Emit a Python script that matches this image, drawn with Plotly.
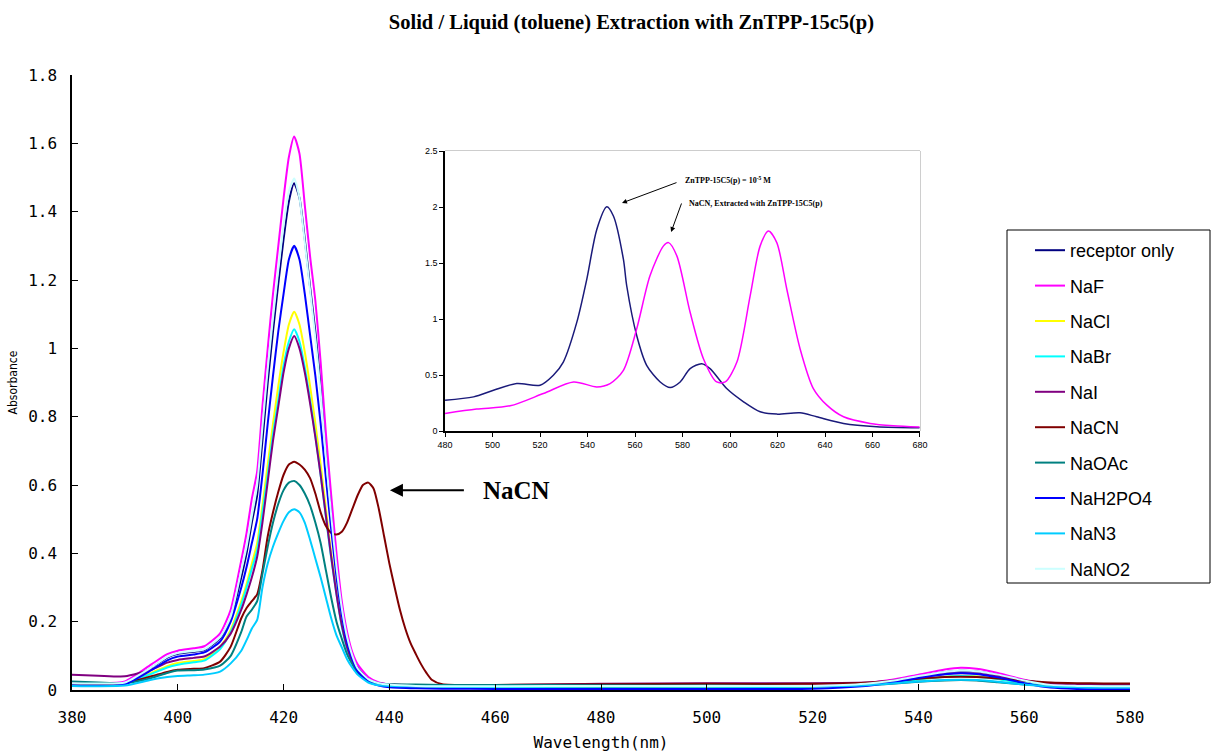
import plotly.graph_objects as go

# ---------------- main spectra (Soret region) ----------------
wavelength = [380, 385, 390, 395, 398, 400, 403, 405, 408, 410,
              412, 413, 414, 415, 416, 417, 418, 419, 420, 421,
              422, 423, 424, 425, 426, 427, 428, 429, 430, 431,
              432, 433, 434, 436, 438, 440, 445, 450, 460, 480,
              500, 520, 530, 535, 540, 545, 548, 551, 555, 560,
              565, 570, 575, 580]

receptor_only = [0.017, 0.016, 0.020, 0.065, 0.095, 0.106, 0.112, 0.117, 0.152, 0.210,
                 0.330, 0.400, 0.490, 0.570, 0.730, 0.900, 1.050, 1.190, 1.320, 1.430,
                 1.483, 1.440, 1.320, 1.180, 1.050, 0.890, 0.700, 0.530, 0.370, 0.245,
                 0.160, 0.100, 0.065, 0.032, 0.020, 0.015, 0.011, 0.009, 0.008, 0.009,
                 0.010, 0.010, 0.017, 0.026, 0.040, 0.052, 0.056, 0.054, 0.044, 0.027,
                 0.014, 0.010, 0.009, 0.009]

naf = [0.020, 0.019, 0.025, 0.075, 0.105, 0.115, 0.122, 0.128, 0.166, 0.235,
       0.380, 0.460, 0.560, 0.640, 0.830, 1.000, 1.160, 1.300, 1.440, 1.560,
       1.620, 1.570, 1.420, 1.270, 1.140, 0.960, 0.750, 0.570, 0.400, 0.260,
       0.170, 0.110, 0.075, 0.038, 0.022, 0.016, 0.012, 0.010, 0.010, 0.012,
       0.012, 0.013, 0.020, 0.030, 0.045, 0.060, 0.065, 0.062, 0.050, 0.030,
       0.016, 0.011, 0.010, 0.010]

nacl = [0.016, 0.015, 0.018, 0.050, 0.070, 0.079, 0.085, 0.090, 0.127, 0.176,
        0.260, 0.310, 0.370, 0.430, 0.540, 0.660, 0.780, 0.890, 0.990, 1.070,
        1.107, 1.070, 0.990, 0.890, 0.780, 0.660, 0.530, 0.400, 0.290, 0.190,
        0.125, 0.080, 0.050, 0.025, 0.016, 0.013, 0.010, 0.009, 0.009, 0.010,
        0.010, 0.010, 0.014, 0.021, 0.031, 0.039, 0.042, 0.040, 0.033, 0.020,
        0.012, 0.009, 0.008, 0.008]

nabr = [0.017, 0.016, 0.019, 0.047, 0.066, 0.074, 0.081, 0.086, 0.120, 0.170,
        0.250, 0.300, 0.355, 0.410, 0.520, 0.630, 0.750, 0.850, 0.950, 1.020,
        1.056, 1.020, 0.945, 0.850, 0.745, 0.630, 0.505, 0.385, 0.280, 0.185,
        0.120, 0.078, 0.050, 0.025, 0.016, 0.013, 0.010, 0.009, 0.009, 0.010,
        0.010, 0.010, 0.014, 0.021, 0.031, 0.039, 0.041, 0.039, 0.032, 0.020,
        0.012, 0.009, 0.008, 0.008]

nai = [0.045, 0.042, 0.040, 0.060, 0.080, 0.088, 0.094, 0.098, 0.127, 0.165,
       0.235, 0.280, 0.330, 0.390, 0.490, 0.610, 0.730, 0.830, 0.930, 1.000,
       1.036, 1.000, 0.930, 0.840, 0.740, 0.630, 0.510, 0.390, 0.280, 0.190,
       0.125, 0.082, 0.055, 0.030, 0.020, 0.017, 0.014, 0.013, 0.014, 0.018,
       0.020, 0.020, 0.022, 0.028, 0.038, 0.047, 0.050, 0.048, 0.040, 0.028,
       0.020, 0.017, 0.016, 0.016]

naoac = [0.025, 0.022, 0.020, 0.035, 0.050, 0.057, 0.058, 0.060, 0.071, 0.100,
         0.170, 0.215, 0.235, 0.260, 0.340, 0.420, 0.490, 0.545, 0.585, 0.607,
         0.612, 0.600, 0.575, 0.540, 0.490, 0.430, 0.350, 0.270, 0.200, 0.150,
         0.105, 0.075, 0.050, 0.027, 0.019, 0.017, 0.016, 0.015, 0.015, 0.014,
         0.013, 0.012, 0.014, 0.018, 0.024, 0.028, 0.029, 0.028, 0.023, 0.016,
         0.012, 0.011, 0.010, 0.010]

nah2po4 = [0.014, 0.013, 0.017, 0.058, 0.087, 0.098, 0.104, 0.110, 0.142, 0.200,
           0.300, 0.360, 0.430, 0.500, 0.630, 0.780, 0.920, 1.050, 1.160, 1.260,
           1.300, 1.260, 1.160, 1.040, 0.920, 0.780, 0.620, 0.470, 0.330, 0.220,
           0.140, 0.090, 0.055, 0.025, 0.013, 0.008, 0.005, 0.004, 0.003, 0.003,
           0.003, 0.004, 0.012, 0.022, 0.035, 0.046, 0.049, 0.047, 0.037, 0.020,
           0.007, 0.003, 0.002, 0.002]

nan3 = [0.012, 0.011, 0.013, 0.030, 0.038, 0.041, 0.043, 0.045, 0.054, 0.078,
        0.115, 0.146, 0.180, 0.205, 0.300, 0.370, 0.420, 0.460, 0.495, 0.520,
        0.529, 0.520, 0.490, 0.440, 0.385, 0.330, 0.270, 0.210, 0.160, 0.125,
        0.090, 0.065, 0.045, 0.022, 0.014, 0.012, 0.011, 0.011, 0.010, 0.010,
        0.010, 0.010, 0.014, 0.019, 0.025, 0.029, 0.030, 0.029, 0.024, 0.016,
        0.010, 0.008, 0.007, 0.007]

nano2 = [0.020, 0.019, 0.022, 0.066, 0.097, 0.108, 0.114, 0.119, 0.155, 0.215,
         0.350, 0.420, 0.510, 0.600, 0.770, 0.940, 1.090, 1.230, 1.360, 1.460,
         1.497, 1.440, 1.310, 1.170, 1.030, 0.870, 0.680, 0.510, 0.360, 0.240,
         0.155, 0.100, 0.063, 0.032, 0.020, 0.016, 0.012, 0.011, 0.011, 0.012,
         0.012, 0.012, 0.018, 0.027, 0.041, 0.053, 0.057, 0.055, 0.045, 0.028,
         0.015, 0.012, 0.011, 0.011]

# NaCN has a second band near 436 nm, so it is sampled more finely there
wavelength_cn = [380, 385, 390, 395, 398, 400, 403, 405, 408, 410,
                 412, 413, 414, 415, 416, 417, 418, 419, 420, 421,
                 422, 423, 424, 425, 426, 427, 428, 429, 430, 431,
                 432, 433, 434, 435, 436, 437, 438, 439, 440, 441,
                 442, 443, 444, 445, 446, 447, 448, 450, 460, 480,
                 500, 520, 530, 535, 540, 545, 548, 551, 555, 560,
                 565, 570, 575, 580]

nacn = [0.018, 0.017, 0.020, 0.040, 0.053, 0.059, 0.062, 0.064, 0.083, 0.127,
        0.210, 0.240, 0.260, 0.280, 0.350, 0.450, 0.520, 0.580, 0.630, 0.660,
        0.668, 0.660, 0.645, 0.620, 0.575, 0.520, 0.480, 0.460, 0.455, 0.463,
        0.490, 0.530, 0.570, 0.600, 0.607, 0.590, 0.530, 0.450, 0.370, 0.300,
        0.234, 0.180, 0.137, 0.105, 0.075, 0.050, 0.030, 0.017, 0.015, 0.017,
        0.018, 0.018, 0.021, 0.026, 0.033, 0.038, 0.039, 0.038, 0.034, 0.027,
        0.022, 0.020, 0.019, 0.019]

series = [
    ("receptor only", wavelength, receptor_only, "#000080"),
    ("NaF", wavelength, naf, "#FF00FF"),
    ("NaCl", wavelength, nacl, "#FFFF00"),
    ("NaBr", wavelength, nabr, "#00FFFF"),
    ("NaI", wavelength, nai, "#800080"),
    ("NaCN", wavelength_cn, nacn, "#800000"),
    ("NaOAc", wavelength, naoac, "#008080"),
    ("NaH2PO4", wavelength, nah2po4, "#0000FF"),
    ("NaN3", wavelength, nan3, "#00CCFF"),
    ("NaNO2", wavelength, nano2, "#CCFFFF"),
]

# ---------------- inset: Q-band region ----------------
inset_wl_receptor = [480, 492, 500.4, 510.2, 520, 525.6, 529.8, 535.5, 539.7, 543.9,
                     548.1, 550.9, 555.1, 556.5, 560.7, 564.9, 570.6, 574.8, 579, 583.2,
                     588.1, 591.6, 598.6, 605.7, 612.7, 619.7, 629.5, 636.5, 647.8, 661.8,
                     679.8]
inset_abs_receptor = [0.275, 0.305, 0.364, 0.424, 0.409, 0.498, 0.616, 0.972, 1.357, 1.800,
                      2.002, 1.920, 1.534, 1.297, 0.853, 0.587, 0.438, 0.388, 0.438, 0.557,
                      0.601, 0.557, 0.379, 0.261, 0.172, 0.151, 0.163, 0.127, 0.068, 0.039,
                      0.030]

inset_wl_nacn = [480, 493.3, 507.4, 521.4, 534.1, 543.9, 549.5, 555.1, 560.7, 566.3,
                 572, 574.1, 577.6, 583.2, 588.8, 594.4, 598, 602.9, 608.5, 612.7,
                 616.2, 619.7, 623.9, 629.5, 635.1, 640.8, 647.8, 659, 668.8, 679.8]
inset_abs_nacn = [0.157, 0.196, 0.225, 0.335, 0.438, 0.394, 0.424, 0.542, 0.912, 1.386,
                  1.653, 1.682, 1.564, 1.060, 0.646, 0.438, 0.438, 0.616, 1.209, 1.653,
                  1.786, 1.682, 1.268, 0.735, 0.379, 0.231, 0.127, 0.068, 0.047, 0.036]

fig = go.Figure()

for name, x, y, color in series:
    fig.add_trace(go.Scatter(
        x=x, y=y, name=name, mode="lines",
        line=dict(color=color, width=2, shape="spline", smoothing=0.6),
        legendgroup=name,
    ))

fig.add_trace(go.Scatter(
    x=inset_wl_receptor, y=inset_abs_receptor, mode="lines", showlegend=False,
    line=dict(color="#1a1a7a", width=1.5, shape="spline", smoothing=0.8),
    xaxis="x2", yaxis="y2",
))
fig.add_trace(go.Scatter(
    x=inset_wl_nacn, y=inset_abs_nacn, mode="lines", showlegend=False,
    line=dict(color="#FF00FF", width=1.5, shape="spline", smoothing=0.8),
    xaxis="x2", yaxis="y2",
))

tick_font = dict(family="DejaVu Sans Mono", size=16, color="#000000")
inset_font = dict(family="Liberation Sans, Arial", size=9, color="#000000")
serif_bold = "Liberation Serif, Times New Roman"

fig.update_layout(
    width=1212, height=755,
    margin=dict(l=72, r=82, t=75, b=65),
    paper_bgcolor="white", plot_bgcolor="white",
    title=dict(
        text="<b>Solid / Liquid (toluene) Extraction with ZnTPP-15c5(p)</b>",
        font=dict(family=serif_bold, size=20.5, color="#000000"),
        x=0.521, xref="container", xanchor="center",
        y=1 - 22 / 755, yref="container", yanchor="middle",
    ),
    xaxis=dict(
        range=[380, 580], dtick=20, tick0=380,
        showline=True, linecolor="#000000", linewidth=1.5,
        ticks="inside", ticklen=6, tickcolor="#000000",
        showgrid=False, zeroline=False, tickfont=tick_font,
        ticklabelstandoff=12, automargin=False,
        title=dict(text="Wavelength(nm)",
                   font=dict(family="DejaVu Sans Mono", size=16, color="#000000"),
                   standoff=11),
    ),
    yaxis=dict(
        range=[0, 1.8], dtick=0.2, tick0=0,
        showline=True, linecolor="#000000", linewidth=1.5,
        ticks="inside", ticklen=6, tickcolor="#000000",
        showgrid=False, zeroline=False, tickfont=tick_font,
        ticklabelstandoff=10, automargin=False,
        title=dict(text="Absorbance",
                   font=dict(family="Liberation Sans Narrow, DejaVu Sans Condensed",
                             size=12, color="#000000"),
                   standoff=8),
    ),
    xaxis2=dict(
        domain=[0.3526, 0.8015], anchor="y2",
        range=[480, 680], dtick=20, tick0=480,
        showline=True, linecolor="#000000", linewidth=1.5,
        ticks="outside", ticklen=4, tickcolor="#000000",
        showgrid=False, zeroline=False, tickfont=inset_font,
    ),
    yaxis2=dict(
        domain=[0.4211, 0.8764], anchor="x2",
        range=[0, 2.5], dtick=0.5, tick0=0,
        showline=True, linecolor="#000000", linewidth=1.5,
        ticks="outside", ticklen=4, tickcolor="#000000",
        showgrid=False, zeroline=False, tickfont=inset_font,
    ),
    legend=dict(
        x=(1030 - 72) / 1058, xanchor="left", xref="paper",
        y=(690 - 232) / 615, yanchor="top", yref="paper",
        bgcolor="rgba(0,0,0,0)", borderwidth=0,
        font=dict(family="Liberation Sans, Arial", size=18, color="#000000"),
        tracegroupgap=9,
    ),
    showlegend=True,
)

# inset plot-area border (top and right edges in grey)
fig.add_shape(type="rect", xref="x2 domain", yref="y2 domain",
              x0=0, x1=1, y0=0, y1=1, line=dict(color="#9a9a9a", width=1), layer="below")

# legend frame
fig.add_shape(type="rect", xref="paper", yref="paper",
              x0=(1007 - 72) / 1058, x1=(1210 - 72) / 1058,
              y0=(690 - 583) / 615, y1=(690 - 230) / 615,
              line=dict(color="#000000", width=1), fillcolor="white", layer="below")

# NaCN band label with its arrow pointing at the 436 nm band
fig.add_annotation(x=440.1, y=0.585, ax=464.1, ay=0.585, xref="x", yref="y",
                   axref="x", ayref="y", text="<b>NaCN</b>", showarrow=True,
                   borderpad=0, startstandoff=19,
                   arrowhead=2, arrowsize=1.3, arrowwidth=2, arrowcolor="#000000",
                   font=dict(family=serif_bold, size=25, color="#000000"))

# inset labels
fig.add_annotation(x=554.5, y=2.036, ax=578.1, ay=2.223, xref="x2", yref="y2",
                   axref="x2", ayref="y2", text="", showarrow=True,
                   arrowhead=2, arrowsize=1, arrowwidth=1, arrowcolor="#000000")
fig.add_annotation(x=580.2, y=2.241, xref="x2", yref="y2", xanchor="left",
                   text="<b>ZnTPP-15C5(p) = 10<sup>-5</sup> M</b>", showarrow=False,
                   font=dict(family=serif_bold, size=8, color="#000000"))
fig.add_annotation(x=575.2, y=1.777, ax=579.8, ay=2.045, xref="x2", yref="y2",
                   axref="x2", ayref="y2", text="", showarrow=True,
                   arrowhead=2, arrowsize=1, arrowwidth=1, arrowcolor="#000000")
fig.add_annotation(x=581.9, y=2.027, xref="x2", yref="y2", xanchor="left",
                   text="<b>NaCN, Extracted with ZnTPP-15C5(p)</b>", showarrow=False,
                   font=dict(family=serif_bold, size=8, color="#000000"))

fig.write_html("out.html")
